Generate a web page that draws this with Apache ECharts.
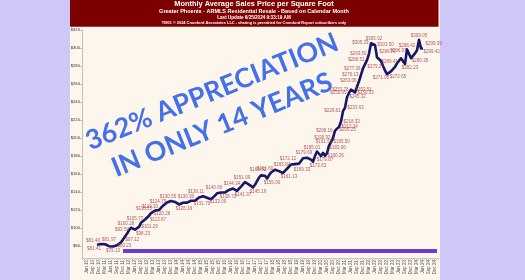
<!DOCTYPE html>
<html><head><meta charset="utf-8">
<script src="https://cdn.jsdelivr.net/npm/echarts@6/dist/echarts.min.js"></script>
<style>html,body{margin:0;padding:0;background:#cdc8f7;}#c{width:525px;height:280px;}</style>
</head><body><div id="c"></div><script>
// ---- data ----
const monthNames = ['Jan','Feb','Mar','Apr','May','Jun','Jul','Aug','Sep','Oct','Nov','Dec'];
const axisStartYear = 2010, axisStartMonth = 3;   // Apr 2010
const axisMonthCount = 178;                          // Apr 2010 .. Jan 2025
const dataStartOffset = 7;                           // first value: Nov 2010
const priceValues = [
 81.41,81.40,82.20,82.80,81.97,80.80,79.80,79.13,79.40,80.23,
 80.90,82.00,84.20,87.12,90.60,93.54,97.50,100.28,99.40,98.23,
 99.60,101.29,105.77,107.60,109.40,111.20,113.67,116.55,117.80,119.30,
 120.26,120.00,122.40,124.75,126.60,128.30,129.60,130.00,130.55,129.00,
 127.50,126.19,127.00,128.00,127.30,128.20,129.40,130.30,129.00,130.20,
 131.70,134.00,136.11,135.20,134.50,133.60,132.50,132.00,133.09,136.00,
 138.50,140.66,139.50,138.72,139.50,141.00,142.30,143.00,143.80,144.34,
 141.37,143.50,146.00,148.50,151.09,150.00,148.20,146.50,145.19,148.00,
 152.00,156.00,158.50,160.52,158.00,155.00,158.50,161.60,163.50,164.80,
 164.00,163.20,162.50,161.13,163.50,165.84,168.00,170.50,172.12,171.00,
 169.33,171.50,174.50,177.50,178.80,178.00,179.69,176.00,173.63,180.00,
 185.01,182.50,179.87,183.50,180.26,183.06,191.58,195.50,199.92,208.16,
 209.25,212.34,218.33,229.81,233.63,245.32,250.05,253.78,253.51,250.53,
 257.00,263.06,270.13,277.38,279.27,286.51,293.50,305.29,305.92,303.50,
 289.72,289.41,285.50,280.00,275.00,271.05,270.00,274.00,272.65,279.00,
 283.00,285.00,288.50,286.50,282.23,298.42,296.97,288.80,290.35,294.00,
 297.50,309.05,299.42,299.39
];
const yTicks = [80,100,120,140,160,180,200,220,240,260,280,300,320];
const yMin = 66.67, yMax = 320;
// labelled points: [value index, side, dx, dy]
const labelLayout = [
 [0,'b',-3],[1,'t',-6],[4,'t',4],[7,'b',2],[9,'r'],[13,'r'],[15,'t',-5],[17,'t',-5],
 [19,'b',8],[21,'r'],[22,'t',-6],[26,'b',9],[27,'t',-7],[29,'t',-5],[30,'b',5],
 [33,'t',-5],[38,'t',-5],[41,'b',5],[47,'t',-5],[50,'b',5],[52,'t',-5],[58,'b',5],
 [61,'t',-5],[63,'b',5],[69,'t',-3],[70,'b',6],[74,'t',-3],[78,'b',5],[83,'t',-5],
 [85,'b',5],[87,'t',-6],[93,'b',6],[95,'t',-5],[98,'t',-5],[100,'b',5],[106,'t',-5],
 [108,'b',5],[110,'t',-5],[112,'b',4],[114,'r'],[115,'r',0,-5],[116,'t',-5],
 [117,'r'],[118,'l'],[119,'l'],[120,'r'],[121,'r'],[122,'r'],[123,'l'],[124,'r'],
 [125,'r'],[126,'l'],[127,'l'],[128,'r'],[129,'r'],[131,'l'],[132,'l'],[133,'l'],
 [134,'r'],[135,'l'],[136,'l'],[137,'l'],[138,'t',1],[139,'r'],[140,'r',0,-5],
 [141,'r',0,4],[145,'b',-6],[148,'b',5],[154,'b',5],[155,'t',0],[156,'l'],
 [158,'b',7],[161,'t',0],[162,'r',0,3],[163,'r',0,-5]
];
const titleLines = [
 'Monthly Average Sales Price per Square Foot',
 'Greater Phoenix - ARMLS Residential Resale - Based on Calendar Month',
 'Last Update 6/25/2024 9:33:19 AM',
 'TM01 \u00a9 2024 Cromford Associates LLC - sharing is permitted for Cromford Report subscribers only'
];
const headlines = ['362% APPRECIATION', 'IN ONLY 14 YEARS'];
const barLevel = 74.4, barFromMonth = 20, barToMonth = 177;

// ---- build ----
const categories = [];
for (let k = 0; k < axisMonthCount; k++) {
  const m = (axisStartMonth + k) % 12;
  const y = axisStartYear + Math.floor((axisStartMonth + k) / 12);
  categories.push(monthNames[m] + ' ' + String(y).slice(2));
}
const lineData = categories.map((c, k) => {
  const i = k - dataStartOffset;
  return (i >= 0 && i < priceValues.length) ? priceValues[i] : null;
});
const posMap = {t:'top', b:'bottom', l:'left', r:'right'};
const labelData = labelLayout.map(([i, s, dx, dy]) => ({
  value: [i + dataStartOffset, priceValues[i]],
  label: {position: posMap[s], offset: [dx || 0, dy || 0], distance: (s === 't' || s === 'b') ? 1 : 2}
}));
const money = v => '$' + v.toFixed(2);

const chart = echarts.init(document.getElementById('c'), null, {renderer: 'canvas'});
const rot = 22 * Math.PI / 180;
chart.setOption({
  animation: false,
  backgroundColor: '#cdc8f7',
  grid: {left: 82, right: 87, top: 30, bottom: 22, containLabel: false},
  xAxis: {
    type: 'category', data: categories, boundaryGap: true,
    axisLine: {lineStyle: {color: '#c4c0b8'}},
    axisTick: {show: true, interval: 0, length: 2, lineStyle: {color: '#d0ccc4'}},
    axisLabel: {interval: (idx) => idx % 3 === 2, rotate: 90, fontSize: 4.5, color: '#555',
      margin: 2, fontFamily: 'Liberation Sans'}
  },
  yAxis: {
    type: 'value', min: yMin, max: yMax, splitLine: {show: false},
    axisLine: {show: true, lineStyle: {color: '#c4c0b8'}},
    axisTick: {show: true, length: 2, customValues: yTicks, lineStyle: {color: '#c4c0b8'}},
    axisLabel: {customValues: yTicks, fontSize: 4.2, color: '#333', margin: 2,
      fontFamily: 'Liberation Sans', formatter: v => '$' + v}
  },
  series: [
    {
      type: 'line', data: lineData, showSymbol: false, connectNulls: false, z: 3,
      lineStyle: {color: '#17176a', width: 2.6, join: 'round'},
      itemStyle: {color: '#17176a'},
      markLine: {
        silent: true, symbol: ['none', 'none'], label: {show: false},
        lineStyle: {color: '#6a3dd1', width: 4, type: 'solid'},
        data: [[{coord: [barFromMonth, barLevel]}, {coord: [barToMonth, barLevel]}]]
      }
    },
    {
      type: 'scatter', data: labelData, symbolSize: 1, z: 4,
      itemStyle: {color: 'rgba(0,0,0,0)'},
      label: {show: true, fontSize: 4.5, color: '#a3313f', fontFamily: 'Liberation Sans',
        formatter: p => money(p.value[1])}
    }
  ],
  graphic: [
    {type: 'rect', z: -100, silent: true, shape: {x: 70, y: 0, width: 370, height: 280}, style: {fill: '#fcf6ec'}},
    {type: 'rect', z: -99, silent: true, shape: {x: 70, y: 0, width: 368.5, height: 26.7}, style: {fill: '#7d0000'}},
    {type: 'text', z: 10, x: 254, y: 4.2, style: {text: titleLines[0], fill: '#fff', font: 'bold 7.4px "Liberation Sans"', textAlign: 'center', textVerticalAlign: 'middle'}},
    {type: 'text', z: 10, x: 254, y: 11.8, style: {text: titleLines[1], fill: '#fff', font: 'bold 5.5px "Liberation Sans"', textAlign: 'center', textVerticalAlign: 'middle'}},
    {type: 'text', z: 10, x: 254, y: 18, style: {text: titleLines[2], fill: '#fff', font: 'bold 4.6px "Liberation Sans"', textAlign: 'center', textVerticalAlign: 'middle'}},
    {type: 'text', z: 10, x: 254, y: 23.3, style: {text: titleLines[3], fill: '#fff', font: 'bold 3.9px "Liberation Sans"', textAlign: 'center', textVerticalAlign: 'middle'}},
    {type: 'text', z: 100, x: 212, y: 92, rotation: rot, style: {text: headlines[0], fill: '#4470ea', font: 'bold 27px Lato', textAlign: 'center', textVerticalAlign: 'middle'}},
    {type: 'text', z: 100, x: 222, y: 125, rotation: rot, style: {text: headlines[1], fill: '#4470ea', font: 'bold 27px Lato', textAlign: 'center', textVerticalAlign: 'middle'}}
  ]
});
</script></body></html>
